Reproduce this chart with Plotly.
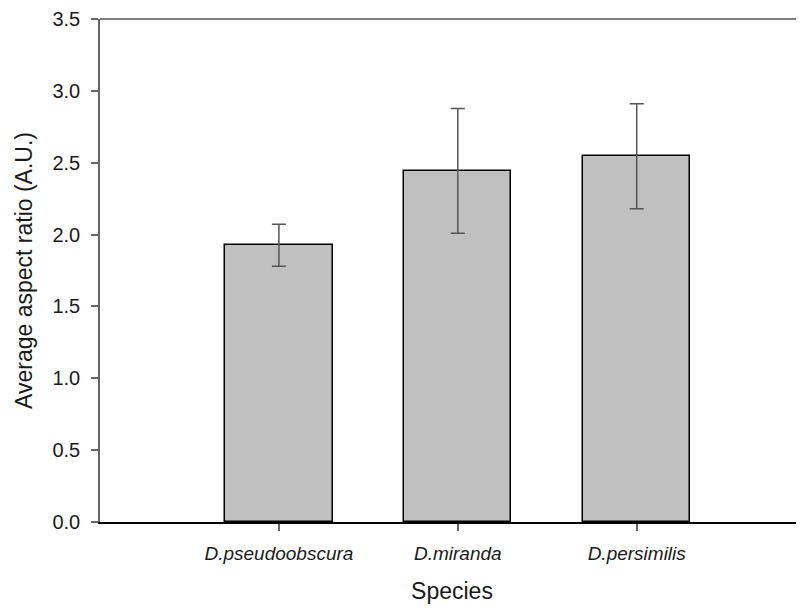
import plotly.graph_objects as go

species = ["D.pseudoobscura", "D.miranda", "D.persimilis"]
means = [1.925, 2.443, 2.545]
errors = [0.146, 0.434, 0.365]
positions = [0, 1, 2]
y_ticks = [0.0, 0.5, 1.0, 1.5, 2.0, 2.5, 3.0, 3.5]

fig = go.Figure()
fig.add_trace(go.Bar(
    x=positions, y=means, width=0.6,
    marker=dict(color="#c0c0c0", line=dict(color="#000000", width=1.5)),
    error_y=dict(type="data", array=errors, visible=True,
                 color="#555555", thickness=1.5, width=7),
    showlegend=False,
))

# page has an 8px body margin; compensate so the figure lands at the reference position
fig.update_layout(
    width=796, height=602,
    margin=dict(l=92, r=0, t=11, b=88),
    plot_bgcolor="white", paper_bgcolor="white",
    font=dict(family="Liberation Sans, Arial, sans-serif", color="#1a1a1a"),
    bargap=0,
)
fig.update_xaxes(
    range=[-1.0, 2.935],
    tickvals=positions,
    ticktext=[f"<i>{s}</i>" for s in species],
    tickfont=dict(size=19, color="#1a1a1a"),
    ticks="outside", ticklen=7, tickcolor="#666666", tickwidth=1.5,
    ticklabelstandoff=6,
    showline=True, linecolor="#000000", linewidth=1.5,
    showgrid=False, zeroline=False,
    title=dict(text="Species", font=dict(size=23, color="#1a1a1a"), standoff=20),
)
fig.update_yaxes(
    range=[0, 3.5],
    tickvals=y_ticks,
    ticktext=[f"{v:.1f}" for v in y_ticks],
    tickfont=dict(size=20, color="#1a1a1a"),
    ticks="outside", ticklen=7, tickcolor="#666666", tickwidth=1.5,
    ticklabelstandoff=7,
    showline=True, linecolor="#666666", linewidth=1.5,
    showgrid=False, zeroline=False,
    title=dict(text="Average aspect ratio (A.U.)", font=dict(size=23, color="#1a1a1a"), standoff=13),
)
fig.add_shape(type="line", xref="paper", yref="paper", x0=0, x1=1, y0=1, y1=1,
              line=dict(color="#808080", width=2))

fig.write_html("out.html")
